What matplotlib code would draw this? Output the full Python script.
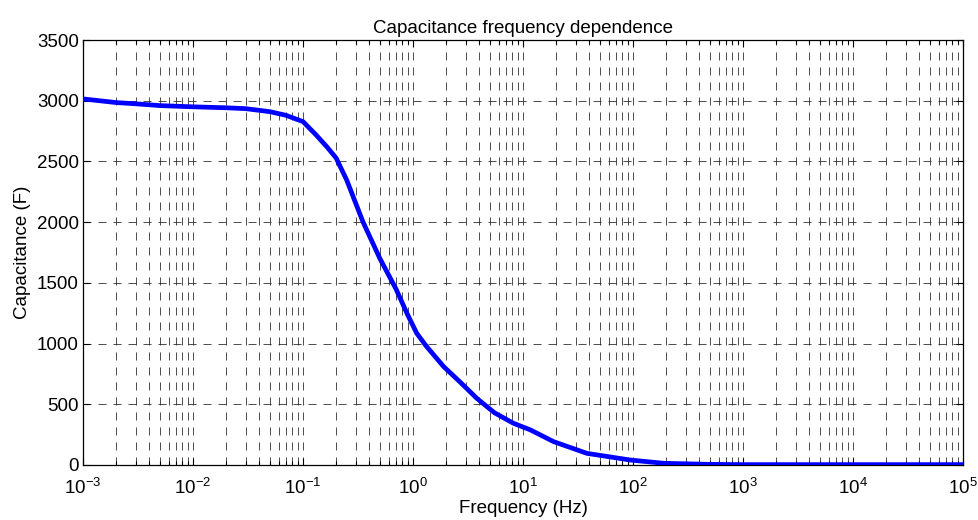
import matplotlib
matplotlib.use("Agg")
import matplotlib.pyplot as plt
from matplotlib.ticker import LogLocator, NullFormatter

plt.rcParams['font.family'] = ['Liberation Sans', 'DejaVu Sans']
plt.rcParams['mathtext.fontset'] = 'custom'
plt.rcParams['mathtext.rm'] = 'Liberation Sans'
plt.rcParams['mathtext.it'] = 'Liberation Sans'
plt.rcParams['mathtext.default'] = 'regular'
plt.rcParams['lines.scale_dashes'] = False

freq = [1e-3, 2e-3, 3e-3, 5e-3, 1e-2, 2e-2, 3e-2, 5e-2, 7e-2, 0.1, 0.13, 0.165,
        0.2, 0.25, 0.35, 0.5, 0.7, 0.88, 1.08, 1.33, 1.9, 2.7, 3.8, 5.5, 8.2,
        11.6, 19, 38, 94, 190, 500, 1000, 1e4, 1e5]
cap = [3015, 2985, 2975, 2960, 2950, 2942, 2935, 2910, 2880, 2828, 2723, 2620,
       2528, 2345, 2004, 1700, 1450, 1250, 1085, 975, 810, 680, 549, 430, 343,
       290, 192, 96, 41, 14, 5, 3, 3, 3]

title = "Capacitance frequency dependence"
xlabel = "Frequency (Hz)"
ylabel = "Capacitance (F)"
yticks = [0, 500, 1000, 1500, 2000, 2500, 3000, 3500]

fig = plt.figure(figsize=(9.79, 5.20), dpi=100)
ax = fig.add_axes([0.0848, 0.1058, 0.8989, 0.8172])

ax.semilogx(freq, cap, color=(0, 0, 1), linewidth=3.4, zorder=3)
ax.set_xlim(1e-3, 1e5)
ax.set_ylim(0, 3500)
ax.set_yticks(yticks)
ax.xaxis.set_major_locator(LogLocator(base=10, numticks=20))
ax.xaxis.set_minor_locator(LogLocator(base=10, subs=range(2, 10), numticks=100))
ax.xaxis.set_minor_formatter(NullFormatter())

dash = (0, (5.8, 5.0))
ax.grid(True, which='major', axis='both', color='#303030', linewidth=0.6, linestyle=dash)
ax.grid(True, which='minor', axis='x', color='#303030', linewidth=0.6, linestyle=dash)

ax.tick_params(axis='both', which='both', direction='in', top=True, right=True,
               labelsize=13.5, width=0.8, colors='black')
ax.tick_params(which='major', length=5)
ax.tick_params(which='minor', length=3)
ax.tick_params(axis='x', pad=9)
ax.tick_params(axis='y', pad=3)
for s in ax.spines.values():
    s.set_linewidth(0.9)

ax.set_title(title, fontsize=13.5, pad=5)
ax.set_xlabel(xlabel, fontsize=13.5, labelpad=2)
ax.set_ylabel(ylabel, fontsize=13.5, labelpad=4)

fig.savefig("out.png", dpi=100)
